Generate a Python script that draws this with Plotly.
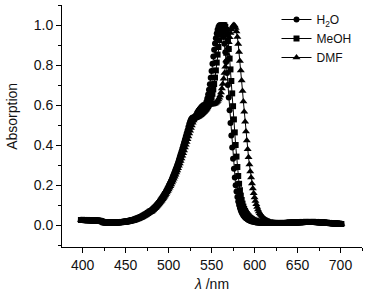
import plotly.graph_objects as go

# wavelength grid (nm), 1 nm steps
wl_start, wl_end = 398, 701

# shared low-wavelength baseline, 398..479 nm
common_blue = [
    .025, .025, .025, .025, .025, .024, .024, .024, .024, .024,
    .024, .023, .023, .023, .023, .023, .022, .022, .022, .022,
    .021, .021, .021, .020, .019, .016, .014, .013, .013, .013,
    .013, .012, .012, .012, .012, .012, .012, .012, .012, .012,
    .012, .013, .013, .013, .013, .014, .014, .014, .015, .015,
    .016, .016, .017, .017, .018, .019, .020, .021, .022, .023,
    .024, .025, .026, .028, .029, .031, .033, .034, .036, .038,
    .040, .042, .044, .047, .049, .052, .054, .057, .060, .063,
    .066, .069,
]

# 480..619 nm
h2o_mid = [
    .072, .076, .080, .084, .088, .093, .098, .103, .108, .114,
    .120, .126, .132, .139, .146, .153, .160, .168, .176, .184,
    .193, .202, .211, .221, .231, .242, .253, .264, .276, .288,
    .300, .313, .326, .340, .354, .368, .383, .398, .413, .428,
    .443, .458, .473, .490, .505, .518, .528, .534, .537, .538,
    .539, .540, .541, .543, .545, .548, .552, .556, .561, .567,
    .574, .582, .592, .603, .616, .632, .652, .676, .704, .736,
    .770, .806, .842, .876, .907, .934, .957, .976, .990, .998,
    1.000, .996, .985, .966, .940, .906, .864, .815, .760, .700,
    .638, .574, .510, .447, .387, .331, .281, .237, .199, .167,
    .140, .118, .100, .085, .073, .063, .055, .048, .043, .038,
    .034, .031, .028, .025, .023, .021, .019, .018, .017, .016,
    .015, .014, .013, .013, .012, .012, .011, .011, .011, .010,
    .010, .010, .010, .010, .010, .010, .010, .010, .010, .011,
]

meoh_mid = [
    .070, .074, .078, .082, .086, .090, .095, .100, .105, .110,
    .116, .122, .128, .134, .141, .148, .155, .162, .170, .178,
    .186, .195, .204, .213, .222, .232, .242, .253, .264, .275,
    .287, .299, .311, .324, .337, .351, .365, .379, .393, .408,
    .423, .438, .453, .468, .482, .495, .507, .517, .525, .531,
    .535, .538, .540, .542, .544, .546, .549, .552, .555, .559,
    .563, .567, .571, .576, .581, .587, .594, .602, .612, .624,
    .638, .656, .678, .705, .737, .773, .812, .852, .890, .924,
    .952, .973, .988, .997, 1.000, .998, .990, .975, .953, .923,
    .880, .832, .778, .720, .658, .594, .528, .463, .400, .342,
    .290, .245, .206, .174, .147, .125, .107, .092, .080, .070,
    .062, .055, .049, .044, .039, .035, .032, .029, .026, .024,
    .022, .020, .019, .017, .016, .015, .014, .013, .013, .012,
    .012, .011, .011, .011, .010, .010, .010, .010, .010, .011,
]

dmf_mid = [
    .068, .072, .076, .080, .084, .088, .092, .097, .102, .107,
    .112, .117, .123, .129, .135, .141, .148, .155, .162, .170,
    .178, .186, .194, .203, .212, .221, .231, .241, .251, .262,
    .273, .284, .296, .308, .320, .333, .346, .359, .373, .387,
    .401, .415, .429, .443, .457, .471, .485, .498, .511, .523,
    .534, .545, .555, .564, .572, .579, .585, .590, .594, .597,
    .599, .600, .601, .601, .601, .601, .601, .601, .601, .602,
    .602, .603, .604, .606, .608, .611, .615, .620, .627, .636,
    .648, .663, .682, .705, .731, .760, .791, .823, .855, .886,
    .914, .939, .960, .977, .989, .997, 1.000, .996, .985, .967,
    .940, .905, .865, .820, .772, .722, .670, .618, .566, .516,
    .468, .422, .379, .339, .302, .268, .237, .208, .182, .159,
    .138, .120, .104, .090, .078, .068, .059, .052, .046, .041,
    .036, .032, .029, .026, .023, .021, .019, .017, .015, .013,
]

# shared high-wavelength baseline, 620..701 nm
common_red = [
    .011, .011, .010, .010, .010, .010, .010, .010, .010, .010,
    .010, .010, .010, .010, .010, .010, .010, .010, .011, .011,
    .011, .011, .011, .012, .012, .012, .012, .013, .013, .013,
    .013, .013, .014, .014, .014, .014, .014, .015, .015, .015,
    .015, .015, .015, .015, .015, .015, .015, .015, .015, .015,
    .015, .015, .014, .014, .014, .014, .013, .013, .013, .012,
    .012, .012, .011, .011, .011, .010, .010, .010, .009, .009,
    .009, .008, .008, .008, .007, .007, .007, .006, .006, .006,
    .005, .005,
]

series_names = ["H<sub>2</sub>O", "MeOH", "DMF"]
series_mid = [h2o_mid, meoh_mid, dmf_mid]
series_symbols = ["circle", "square", "triangle-up"]
series_sizes = [6, 6, 7]

wavelength = list(range(wl_start, wl_end + 1))

fig = go.Figure()
for name, mid, sym, sz in zip(series_names, series_mid, series_symbols, series_sizes):
    y = common_blue + mid + common_red
    assert len(y) == len(wavelength), (name, len(y), len(wavelength))
    fig.add_trace(go.Scatter(
        x=wavelength, y=y, name=name, mode="lines+markers",
        line=dict(color="black", width=1),
        marker=dict(symbol=sym, size=sz, color="black", line=dict(width=0)),
    ))

axis_font = dict(family="Liberation Sans, Arial, sans-serif", size=14, color="#111")

fig.update_layout(
    width=376, height=299,
    margin=dict(l=62, r=14, t=5, b=52, autoexpand=False),
    paper_bgcolor="white", plot_bgcolor="white",
    font=axis_font,
    showlegend=True,
    legend=dict(x=0.715, y=1.0, xanchor="left", yanchor="top",
                bgcolor="rgba(0,0,0,0)", font=dict(size=12),
                itemwidth=30, tracegroupgap=0),
    annotations=[dict(
        text="Absorption", textangle=-90, showarrow=False,
        xref="paper", yref="paper", x=-0.165, y=0.54,
        xanchor="center", yanchor="middle", font=dict(size=14),
    )],
)
fig.update_xaxes(
    range=[376, 725], showline=True, linecolor="black", linewidth=1,
    ticks="outside", ticklen=5, tickwidth=1, tickcolor="black",
    tick0=400, dtick=50, automargin=False,
    minor=dict(ticks="outside", ticklen=3, dtick=25, tick0=400, tickcolor="black"),
    showgrid=False, zeroline=False,
    title=dict(text="<i>λ</i> /nm", font=dict(size=14), standoff=7),
)
fig.update_yaxes(
    range=[-0.11, 1.1], showline=True, linecolor="black", linewidth=1,
    ticks="outside", ticklen=5, tickwidth=1, tickcolor="black",
    tick0=0, dtick=0.2, tickformat=".1f", automargin=False,
    minor=dict(ticks="outside", ticklen=3, dtick=0.1, tick0=0, tickcolor="black"),
    showgrid=False, zeroline=False,
)

fig.write_html(
    "out.html",
    config={"displayModeBar": False},
    post_script="document.body.style.margin='0';document.body.style.overflow='hidden';",
)
